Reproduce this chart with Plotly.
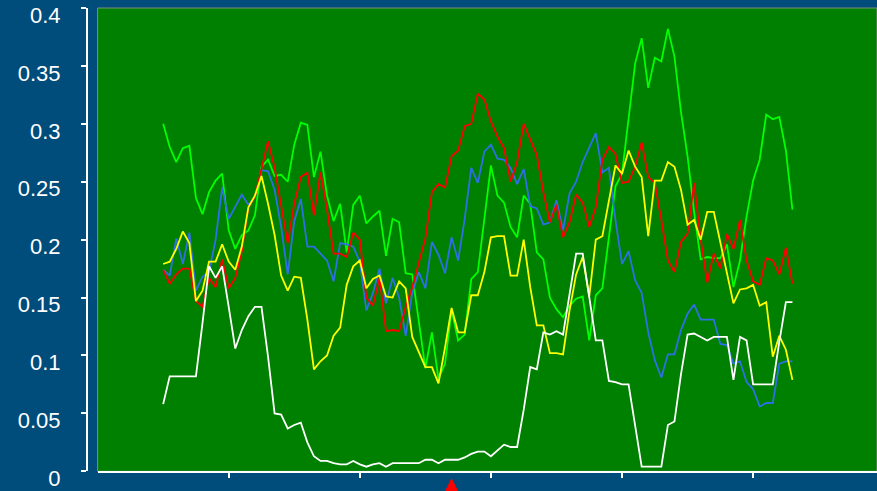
import plotly.graph_objects as go

# sample index along the horizontal axis
steps = list(range(10, 107))

red_series = [
    0.174, 0.162, 0.170, 0.175, 0.175, 0.147, 0.142, 0.167, 0.159, 0.183,
    0.158, 0.167, 0.190, 0.228, 0.237, 0.260, 0.285, 0.262, 0.228, 0.197,
    0.231, 0.254, 0.258, 0.221, 0.258, 0.226, 0.188, 0.188, 0.185, 0.206,
    0.200, 0.150, 0.143, 0.167, 0.121, 0.122, 0.121, 0.142, 0.159, 0.179,
    0.201, 0.241, 0.248, 0.245, 0.272, 0.277, 0.298, 0.300, 0.326, 0.321,
    0.302, 0.289, 0.279, 0.250, 0.267, 0.300, 0.286, 0.273, 0.241, 0.215,
    0.230, 0.202, 0.215, 0.239, 0.232, 0.211, 0.228, 0.269, 0.280, 0.274,
    0.249, 0.250, 0.263, 0.284, 0.254, 0.249, 0.217, 0.182, 0.172, 0.198,
    0.205, 0.249, 0.200, 0.163, 0.188, 0.175, 0.205, 0.192, 0.217, 0.182,
    0.164, 0.161, 0.184, 0.182, 0.170, 0.193, 0.162,
]

blue_series = [
    0.174, 0.169, 0.201, 0.179, 0.206, 0.156, 0.168, 0.172, 0.200, 0.245,
    0.218, 0.228, 0.239, 0.230, 0.237, 0.260, 0.259, 0.243, 0.211, 0.170,
    0.216, 0.235, 0.194, 0.194, 0.188, 0.182, 0.164, 0.197, 0.196, 0.194,
    0.181, 0.139, 0.154, 0.175, 0.145, 0.167, 0.150, 0.117, 0.154, 0.172,
    0.158, 0.198, 0.187, 0.171, 0.202, 0.182, 0.218, 0.262, 0.249, 0.276,
    0.282, 0.270, 0.269, 0.262, 0.248, 0.261, 0.229, 0.227, 0.213, 0.215,
    0.234, 0.208, 0.240, 0.250, 0.267, 0.280, 0.292, 0.258, 0.262, 0.217,
    0.179, 0.190, 0.165, 0.154, 0.120, 0.096, 0.081, 0.101, 0.101, 0.122,
    0.136, 0.144, 0.131, 0.131, 0.131, 0.110, 0.109, 0.093, 0.095, 0.077,
    0.071, 0.056, 0.059, 0.059, 0.093, 0.095, 0.095,
]

green_series = [
    0.300, 0.280, 0.267, 0.279, 0.281, 0.236, 0.222, 0.241, 0.251, 0.257,
    0.208, 0.192, 0.204, 0.208, 0.221, 0.263, 0.269, 0.255, 0.256, 0.250,
    0.282, 0.301, 0.299, 0.254, 0.276, 0.238, 0.216, 0.231, 0.189, 0.230,
    0.238, 0.214, 0.220, 0.225, 0.186, 0.218, 0.215, 0.171, 0.170, 0.131,
    0.089, 0.120, 0.080, 0.093, 0.139, 0.113, 0.118, 0.166, 0.172, 0.218,
    0.264, 0.238, 0.232, 0.211, 0.202, 0.238, 0.231, 0.189, 0.183, 0.150,
    0.140, 0.133, 0.143, 0.149, 0.151, 0.113, 0.152, 0.158, 0.201, 0.246,
    0.257, 0.306, 0.352, 0.374, 0.331, 0.357, 0.354, 0.382, 0.358, 0.310,
    0.272, 0.224, 0.183, 0.185, 0.184, 0.184, 0.196, 0.159, 0.182, 0.220,
    0.251, 0.269, 0.308, 0.304, 0.306, 0.277, 0.226,
]

yellow_series = [
    0.179, 0.181, 0.192, 0.207, 0.197, 0.147, 0.156, 0.181, 0.181, 0.196,
    0.181, 0.174, 0.194, 0.228, 0.238, 0.255, 0.231, 0.204, 0.169, 0.156,
    0.168, 0.167, 0.131, 0.088, 0.095, 0.100, 0.117, 0.124, 0.161, 0.177,
    0.182, 0.158, 0.166, 0.169, 0.151, 0.150, 0.164, 0.158, 0.116, 0.103,
    0.090, 0.090, 0.076, 0.107, 0.141, 0.120, 0.120, 0.152, 0.152, 0.172,
    0.202, 0.203, 0.203, 0.169, 0.169, 0.200, 0.159, 0.126, 0.126, 0.102,
    0.102, 0.101, 0.139, 0.170, 0.185, 0.151, 0.200, 0.203, 0.233, 0.264,
    0.257, 0.277, 0.263, 0.254, 0.203, 0.251, 0.251, 0.267, 0.263, 0.243,
    0.213, 0.217, 0.200, 0.224, 0.224, 0.198, 0.171, 0.145, 0.157, 0.158,
    0.161, 0.143, 0.146, 0.099, 0.117, 0.105, 0.079,
]

white_series = [
    0.058, 0.082, 0.082, 0.082, 0.082, 0.082, 0.128, 0.177, 0.167, 0.177,
    0.142, 0.106, 0.122, 0.134, 0.142, 0.142, 0.099, 0.050, 0.049, 0.037,
    0.040, 0.042, 0.025, 0.013, 0.009, 0.009, 0.007, 0.006, 0.006, 0.009,
    0.006, 0.004, 0.006, 0.007, 0.004, 0.007, 0.007, 0.007, 0.007, 0.007,
    0.010, 0.010, 0.007, 0.010, 0.010, 0.010, 0.012, 0.015, 0.017, 0.017,
    0.013, 0.018, 0.023, 0.021, 0.021, 0.053, 0.090, 0.088, 0.120, 0.118,
    0.121, 0.118, 0.152, 0.188, 0.188, 0.151, 0.113, 0.113, 0.078, 0.077,
    0.075, 0.075, 0.040, 0.004, 0.004, 0.004, 0.004, 0.040, 0.043, 0.084,
    0.118, 0.119, 0.116, 0.113, 0.116, 0.116, 0.116, 0.079, 0.116, 0.113,
    0.075, 0.075, 0.075, 0.075, 0.112, 0.146, 0.146,
]

y_ticks = [0, 0.05, 0.1, 0.15, 0.2, 0.25, 0.3, 0.35, 0.4]
x_ticks = [20, 40, 60, 80, 100]
event_x = [54]

PAPER_BG = "#004C7A"
PLOT_BG = "#008000"
X_RANGE = [0, 118.9]
PLOT_DOMAIN_X = [0.1113, 1]
STRIP_TOP = 20 / 491  # height of the strip under the axis, as a paper fraction

fig = go.Figure()

series = [
    ("series E", green_series, "#00FF00"),
    ("series B", blue_series, "#2E6FE6"),
    ("series A", red_series, "#FF0000"),
    ("series D", yellow_series, "#FFFF00"),
    ("series W", white_series, "#FFFFFF"),
]
for name, values, color in series:
    fig.add_trace(go.Scatter(
        x=steps, y=values, mode="lines", name=name,
        line=dict(color=color, width=1.8),
        showlegend=False,
    ))

# event markers: red arrow heads in the strip just under the horizontal axis
fig.add_trace(go.Scatter(
    x=event_x, y=[0.66] * len(event_x), xaxis="x2", yaxis="y2",
    mode="markers", cliponaxis=False, showlegend=False,
    marker=dict(symbol="arrow-up", size=17, angle=0, color="#FF0000",
                line=dict(width=0)),
))

fig.update_layout(
    width=877, height=491,
    margin=dict(l=0, r=0, t=8, b=0, autoexpand=False),
    paper_bgcolor=PAPER_BG,
    plot_bgcolor=PAPER_BG,
    showlegend=False,
    font=dict(family="Arial, Liberation Sans, sans-serif", color="white"),
    xaxis=dict(
        domain=PLOT_DOMAIN_X, range=X_RANGE, anchor="y", automargin=False,
        showgrid=False, zeroline=False,
        showline=True, linecolor="white", linewidth=2,
        tickmode="array", tickvals=x_ticks, showticklabels=False,
        ticks="outside", ticklen=5, tickwidth=2, tickcolor="white",
    ),
    yaxis=dict(
        domain=[STRIP_TOP, 1], automargin=False,
        anchor="free", position=0.0992, range=[0, 0.4],
        showgrid=False, zeroline=False,
        showline=True, linecolor="white", linewidth=2,
        tickmode="array", tickvals=y_ticks,
        ticktext=[f"{v:g}" for v in y_ticks],
        ticks="outside", ticklen=5, tickwidth=2, tickcolor="white",
        tickfont=dict(size=22, color="white"),
        ticklabelstandoff=16, ticklabelshift=7,
        ticklabeloverflow="allow",
    ),
    xaxis2=dict(domain=PLOT_DOMAIN_X, range=X_RANGE, anchor="y2",
                visible=False, fixedrange=True, automargin=False),
    yaxis2=dict(domain=[0, STRIP_TOP], range=[0, 1], anchor="x2",
                visible=False, fixedrange=True, automargin=False),
    shapes=[dict(
        type="rect", xref="x domain", yref="y domain",
        x0=0, x1=1, y0=0, y1=1, layer="below",
        fillcolor=PLOT_BG,
        line=dict(color="#7F8F7F", width=1),
    )],
)

fig.write_html("out.html")
